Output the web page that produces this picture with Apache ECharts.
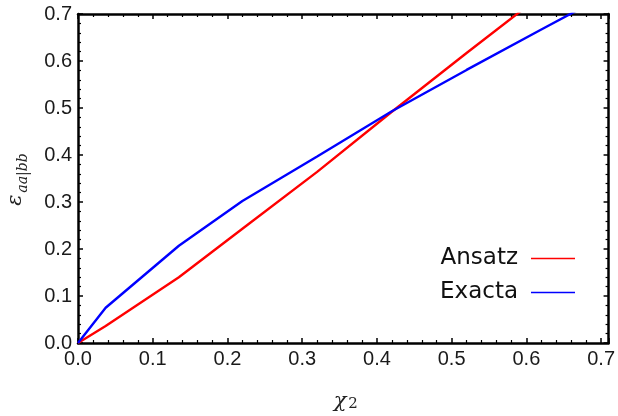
<!DOCTYPE html>
<html>
<head>
<meta charset="utf-8">
<script src="https://cdn.jsdelivr.net/npm/echarts@6/dist/echarts.min.js"></script>
<style>
  html, body { margin: 0; padding: 0; background: #fff; }
  #chart { width: 618px; height: 416px; }
</style>
</head>
<body>
<div id="chart"></div>
<script>
// Sampled χ2 values and the two entanglement curves
const chi2 = [0, 0.037, 0.135, 0.22, 0.32, 0.42, 0.52, 0.62, 0.70];
const ansatz = [0, 0.036, 0.140, 0.243, 0.364, 0.492, 0.617, 0.740, 0.838];
const exacta = [0, 0.075, 0.207, 0.302, 0.397, 0.493, 0.581, 0.667, 0.735];

const seriesNames = ['Ansatz', 'Exacta'];
const seriesColors = ['#ff0000', '#0000ff'];

// Axis ranges and tick spacing
const xRange = [0, 0.71];
const yRange = [0, 0.7];
const tickStep = 0.1;

const pairs = (xs, ys) => xs.map((x, i) => [x, ys[i]]);

const tickLabel = v => {
  const k = v / tickStep;
  return Math.abs(k - Math.round(k)) < 1e-6 ? v.toFixed(1) : '';
};

const labelStyle = {
  show: true,
  color: '#1a1a1a',
  fontFamily: 'Liberation Sans, Arial, sans-serif',
  fontSize: 20,
  margin: 6,
  formatter: tickLabel
};

const frameAxis = (extra) => Object.assign({
  type: 'value',
  interval: tickStep,
  axisLine: { show: true, onZero: false, lineStyle: { color: '#000', width: 2.5 } },
  axisTick: { show: true, inside: true, length: 5, lineStyle: { color: '#000', width: 1.5 } },
  minorTick: { show: true, splitNumber: 5, length: 3, lineStyle: { color: '#000', width: 1.2 } },
  splitLine: { show: false },
  axisLabel: labelStyle
}, extra);

const chart = echarts.init(document.getElementById('chart'), null, { renderer: 'canvas' });

chart.setOption({
  animation: false,
  backgroundColor: '#fff',
  grid: { left: 78, right: 7, top: 14, bottom: 73, containLabel: false },
  xAxis: [
    frameAxis({ min: xRange[0], max: xRange[1], position: 'bottom' }),
    frameAxis({ min: xRange[0], max: xRange[1], position: 'top', axisLabel: { show: false } })
  ],
  yAxis: [
    frameAxis({ min: yRange[0], max: yRange[1], position: 'left' }),
    frameAxis({ min: yRange[0], max: yRange[1], position: 'right', axisLabel: { show: false } })
  ],
  legend: {
    data: seriesNames.map((name, i) => ({ name, icon: 'rect', itemStyle: { color: seriesColors[i] } })),
    orient: 'vertical',
    align: 'right',
    right: 43,
    top: 247,
    padding: 0,
    itemGap: 11,
    itemWidth: 44,
    itemHeight: 1.6,
    textStyle: {
      fontFamily: 'DejaVu Sans, sans-serif',
      fontSize: 23,
      color: '#111',
      padding: [0, 8, 0, 0]
    }
  },
  series: seriesNames.map((name, i) => ({
    name,
    type: 'line',
    xAxisIndex: 0,
    yAxisIndex: 0,
    data: pairs(chi2, i === 0 ? ansatz : exacta),
    symbol: 'none',
    clip: true,
    lineStyle: { color: seriesColors[i], width: 2.4 },
    itemStyle: { color: seriesColors[i] }
  })),
  graphic: [
    // y-axis title: ε with subscript aa|bb, reading bottom to top
    {
      type: 'text', x: 16, y: 200, rotation: Math.PI / 2,
      style: {
        text: 'ε', fill: '#222',
        font: 'italic 21px "DejaVu Serif", "Liberation Serif", serif',
        align: 'center', verticalAlign: 'middle'
      }
    },
    {
      type: 'text', x: 23, y: 173, rotation: Math.PI / 2,
      style: {
        text: 'aa|bb', fill: '#222',
        font: 'italic 14px "DejaVu Serif", "Liberation Serif", serif',
        align: 'center', verticalAlign: 'middle'
      }
    },
    // x-axis title: χ2
    {
      type: 'text', x: 340, y: 402,
      style: {
        text: 'χ', fill: '#222',
        font: 'italic 21px "DejaVu Serif", "Liberation Serif", serif',
        align: 'center', verticalAlign: 'middle'
      }
    },
    {
      type: 'text', x: 353, y: 404,
      style: {
        text: '2', fill: '#222',
        font: '15px "DejaVu Serif", "Liberation Serif", serif',
        align: 'center', verticalAlign: 'middle'
      }
    }
  ]
});
</script>
</body>
</html>
